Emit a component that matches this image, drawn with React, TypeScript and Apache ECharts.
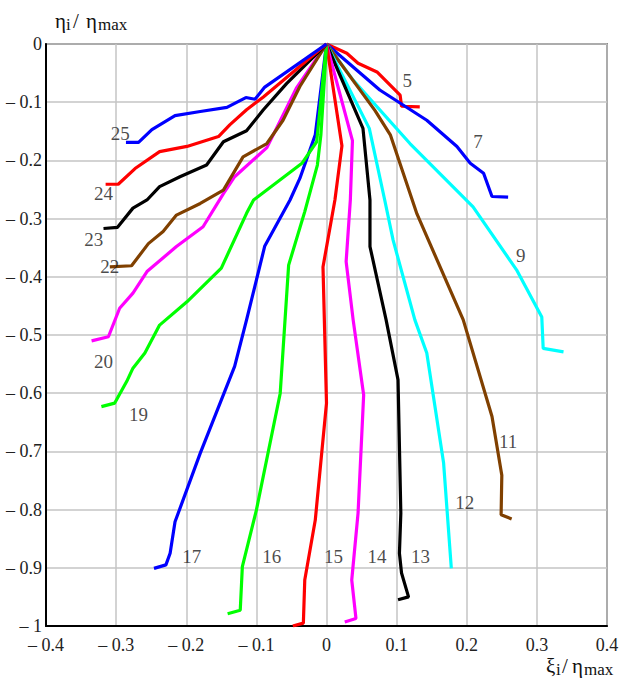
import React, { useEffect, useRef } from "react";
import * as echarts from "echarts";

const xTicks = { min: -0.4, max: 0.4, interval: 0.1 };
const yTicks = { min: -1, max: 0, interval: 0.1 };

const c5 = [[0, 0], [0.029, -0.016], [0.045, -0.033], [0.072, -0.048], [0.105, -0.088], [0.107, -0.107], [0.133, -0.108]];
const c7 = [[0, 0], [0.076, -0.079], [0.143, -0.131], [0.186, -0.176], [0.205, -0.205], [0.224, -0.222], [0.236, -0.262], [0.259, -0.263]];
const c9 = [[0, 0], [0.038, -0.062], [0.119, -0.171], [0.209, -0.28], [0.271, -0.388], [0.307, -0.469], [0.309, -0.523], [0.338, -0.529]];
const c11 = [[0, 0], [0.069, -0.114], [0.091, -0.156], [0.129, -0.292], [0.195, -0.474], [0.236, -0.64], [0.25, -0.741], [0.249, -0.809], [0.264, -0.816]];
const c12 = [[0, 0], [0.061, -0.145], [0.083, -0.268], [0.095, -0.337], [0.126, -0.474], [0.143, -0.531], [0.167, -0.72], [0.178, -0.901]];
const c13 = [[0, 0], [0.052, -0.145], [0.062, -0.268], [0.062, -0.348], [0.085, -0.474], [0.102, -0.577], [0.106, -0.806], [0.104, -0.875], [0.107, -0.909], [0.117, -0.95], [0.102, -0.955]];
const c14 = [[0, 0], [0.037, -0.166], [0.034, -0.268], [0.028, -0.374], [0.038, -0.474], [0.053, -0.603], [0.045, -0.806], [0.036, -0.921], [0.042, -0.987], [0.026, -0.993]];
const c15 = [[0, 0], [0.022, -0.175], [0.012, -0.268], [-0.005, -0.383], [0.0, -0.617], [-0.016, -0.818], [-0.031, -0.921], [-0.033, -0.995], [-0.048, -1.0]];
const c16 = [[0, 0], [-0.002, -0.042], [-0.008, -0.156], [-0.013, -0.208], [-0.031, -0.288], [-0.054, -0.38], [-0.066, -0.6], [-0.1, -0.801], [-0.12, -0.898], [-0.123, -0.973], [-0.141, -0.979]];
const c17 = [[0, 0], [-0.016, -0.156], [-0.038, -0.231], [-0.052, -0.268], [-0.088, -0.347], [-0.114, -0.474], [-0.131, -0.554], [-0.18, -0.703], [-0.216, -0.821], [-0.223, -0.875], [-0.229, -0.895], [-0.246, -0.901]];
const c19 = [[0, 0], [-0.014, -0.168], [-0.035, -0.205], [-0.104, -0.268], [-0.114, -0.291], [-0.15, -0.385], [-0.199, -0.443], [-0.238, -0.483], [-0.259, -0.531], [-0.276, -0.557], [-0.285, -0.58], [-0.302, -0.617], [-0.321, -0.623]];
const c20 = [[0, 0], [-0.043, -0.076], [-0.085, -0.178], [-0.131, -0.228], [-0.147, -0.257], [-0.176, -0.314], [-0.214, -0.348], [-0.256, -0.391], [-0.276, -0.428], [-0.295, -0.454], [-0.311, -0.503], [-0.335, -0.51]];
const c22 = [[0, 0], [-0.038, -0.073], [-0.062, -0.131], [-0.085, -0.171], [-0.119, -0.194], [-0.147, -0.251], [-0.18, -0.274], [-0.214, -0.294], [-0.233, -0.322], [-0.254, -0.343], [-0.278, -0.381], [-0.309, -0.383]];
const c23 = [[0, 0], [-0.057, -0.068], [-0.09, -0.113], [-0.114, -0.149], [-0.147, -0.168], [-0.171, -0.208], [-0.209, -0.228], [-0.238, -0.245], [-0.256, -0.268], [-0.276, -0.282], [-0.298, -0.315], [-0.318, -0.317]];
const c24 = [[0, 0], [-0.09, -0.091], [-0.114, -0.113], [-0.138, -0.139], [-0.154, -0.159], [-0.199, -0.176], [-0.238, -0.185], [-0.273, -0.214], [-0.297, -0.241], [-0.315, -0.241]];
const c25 = [[0, 0], [-0.088, -0.074], [-0.102, -0.095], [-0.115, -0.092], [-0.142, -0.109], [-0.18, -0.116], [-0.216, -0.123], [-0.249, -0.147], [-0.268, -0.169], [-0.286, -0.169]];

const curveNames = ["5", "7", "9", "11", "12", "13", "14", "15", "16", "17", "19", "20", "22", "23", "24", "25"];
const curveData = [c5, c7, c9, c11, c12, c13, c14, c15, c16, c17, c19, c20, c22, c23, c24, c25];
const curveColors = ["#ff0000", "#0000ff", "#00ffff", "#804000", "#00ffff", "#000000", "#ff00ff", "#ff0000", "#00ff00", "#0000ff", "#00ff00", "#ff00ff", "#804000", "#000000", "#ff0000", "#0000ff"];

const labelX = [0.115, 0.216, 0.277, 0.259, 0.197, 0.134, 0.072, 0.01, -0.078, -0.192, -0.268, -0.318, -0.309, -0.332, -0.318, -0.294];
const labelY = [-0.062, -0.168, -0.364, -0.683, -0.788, -0.88, -0.88, -0.88, -0.88, -0.88, -0.636, -0.546, -0.383, -0.336, -0.257, -0.153];

const FONT = "Liberation Serif";

function fmt(v: number): string {
  const a = Math.round(Math.abs(v) * 10) / 10;
  const s = String(a);
  return v < -1e-9 ? "\u2013 " + s : s;
}

export default function App() {
  const ref = useRef<HTMLDivElement>(null);
  useEffect(() => {
    if (!ref.current) return;
    const chart = echarts.init(ref.current, null, { renderer: "svg" });
    const lineSeries = curveData.map((d, i) => ({
      type: "line",
      name: curveNames[i],
      data: d,
      showSymbol: false,
      symbol: "none",
      lineStyle: { color: curveColors[i], width: 3.2 },
      z: 3,
    }));
    const labelSeries = {
      type: "scatter",
      data: curveNames.map((n, i) => [labelX[i], labelY[i], n]),
      symbolSize: 1,
      itemStyle: { color: "rgba(0,0,0,0)" },
      label: {
        show: true,
        position: "inside",
        formatter: (p: any) => p.data[2],
        fontFamily: FONT,
        fontSize: 19,
        color: "#1a1a1a",
      },
      z: 4,
    };
    const mk = (x: number, y: number, t: string, size: number) => ({
      type: "text",
      x,
      y,
      style: { text: t, fontFamily: FONT, fontSize: size, fill: "#111", verticalAlign: "middle", align: "left" },
    });
    chart.setOption({
      animation: false,
      backgroundColor: "#ffffff",
      grid: {
        left: 46,
        top: 44,
        right: 15,
        bottom: 58,
        show: true,
        borderColor: "#333",
        borderWidth: 1.5,
        backgroundColor: "#fff",
      },
      xAxis: {
        type: "value",
        min: xTicks.min,
        max: xTicks.max,
        interval: xTicks.interval,
        axisLine: { show: true, onZero: false, lineStyle: { color: "#000", width: 2 } },
        axisTick: { show: false },
        splitLine: { show: true, lineStyle: { color: "#c4c4c4", width: 1.5 } },
        axisLabel: { formatter: fmt, fontFamily: FONT, fontSize: 18, color: "#222", margin: 10 },
      },
      yAxis: {
        type: "value",
        min: yTicks.min,
        max: yTicks.max,
        interval: yTicks.interval,
        axisLine: { show: true, onZero: false, lineStyle: { color: "#000", width: 2 } },
        axisTick: { show: false },
        splitLine: { show: true, lineStyle: { color: "#c4c4c4", width: 1.5 } },
        axisLabel: { formatter: fmt, fontFamily: FONT, fontSize: 18, color: "#222", margin: 4 },
      },
      graphic: [
        mk(55, 21, "\u03b7", 21),
        mk(66, 24, "i", 17),
        mk(73, 21, "/", 21),
        mk(86, 21, "\u03b7", 21),
        mk(98, 24, "max", 17),
        mk(546, 666, "\u03be", 21),
        mk(556, 669, "i", 17),
        mk(562, 666, "/", 21),
        mk(572, 666, "\u03b7", 21),
        mk(584, 669, "max", 17),
      ],
      series: [...lineSeries, labelSeries],
    });
    return () => chart.dispose();
  }, []);
  return (
    <div
      ref={ref}
      style={{ position: "fixed", left: 0, top: 0, width: 622, height: 684, background: "#fff" }}
    />
  );
}
